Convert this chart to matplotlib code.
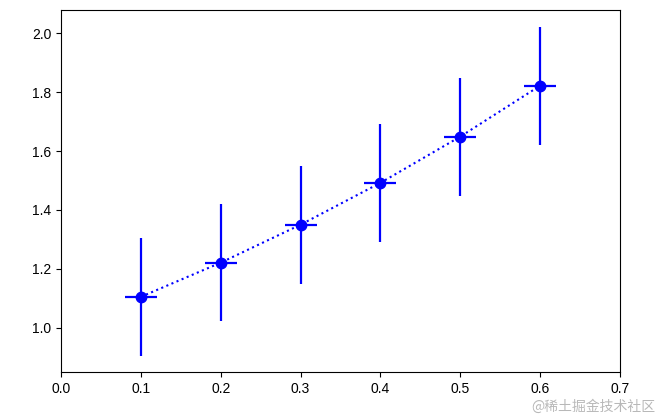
import matplotlib
matplotlib.use("Agg")
import matplotlib.pyplot as plt

# data
x = [0.1, 0.2, 0.3, 0.4, 0.5, 0.6]
y = [1.105, 1.221, 1.350, 1.492, 1.649, 1.822]
y_err = [0.2, 0.2, 0.2, 0.2, 0.2, 0.2]
x_err = [0.02, 0.02, 0.02, 0.02, 0.02, 0.02]
watermark = "@稀土掘金技术社区"

plt.rcParams['font.family'] = ['Liberation Sans', 'DejaVu Sans']
plt.rcParams['font.size'] = 10

fig = plt.figure(figsize=(6.65, 4.19), dpi=100)
ax = fig.add_axes([0.092, 0.112, 0.84, 0.863])
ax.errorbar(x, y, yerr=y_err, xerr=x_err, fmt='bo:', ecolor='b',
            elinewidth=1.6, markersize=7.5, linewidth=1.5)
ax.set_xlim(0, 0.7)

fig.text(0.985, 0.03, watermark, ha='right', va='center', fontsize=10,
         color='#b8b8b8', family=['Noto Sans CJK SC', 'DejaVu Sans'])

fig.savefig("out.png", dpi=100)
